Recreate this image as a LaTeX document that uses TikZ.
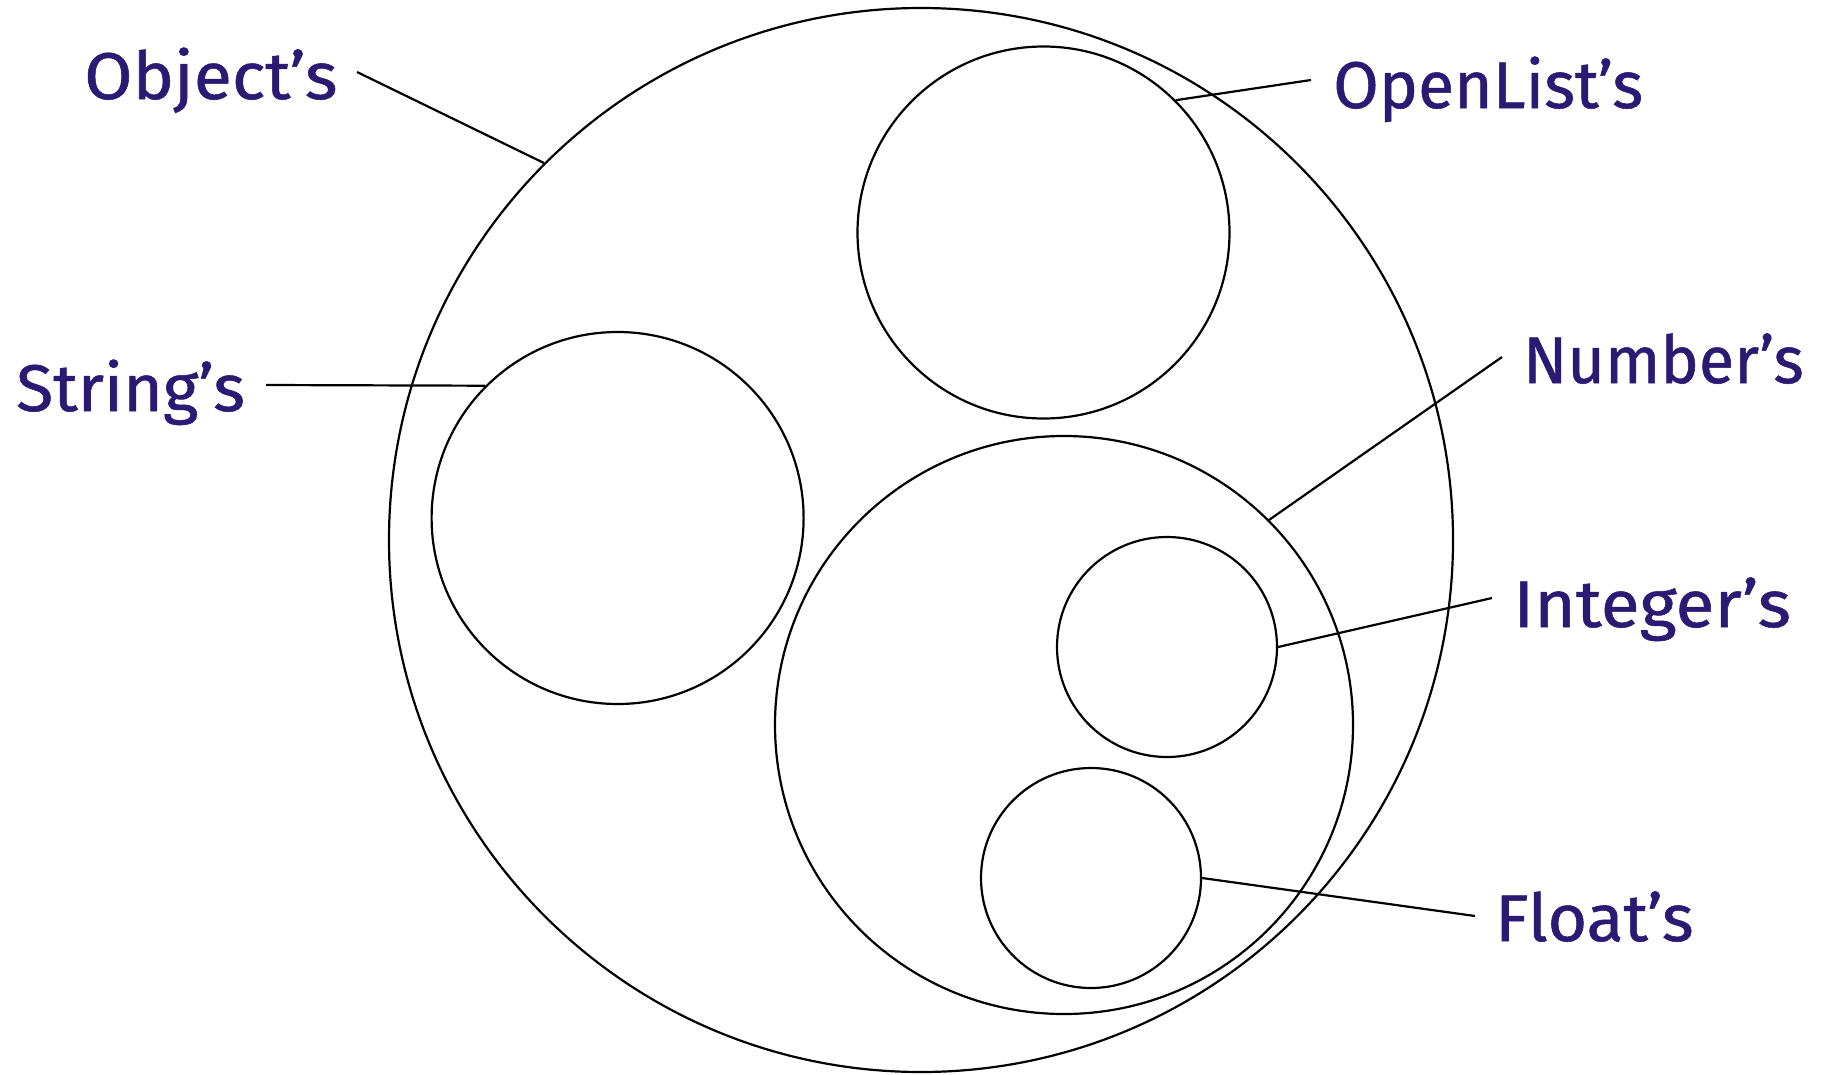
\documentclass[tikz,border=0pt]{standalone}
\usepackage{fontspec}
\setmainfont{Fira Sans}
\newfontfamily\lblfont[FakeBold=0.8]{Fira Sans}
\definecolor{labelblue}{HTML}{2B1A73}
\begin{document}
\begin{tikzpicture}[x=1pt,y=-1pt,
  setcircle/.style={draw,circle,inner sep=0pt,line width=2.2pt},
  lbl/.style={anchor=base west,inner sep=0pt,text=labelblue,font=\lblfont\fontsize{66}{70}\selectfont},
  conn/.style={line width=2.2pt}]
\useasboundingbox (0,0) rectangle (1822,1074);
\node[setcircle,minimum size=1064pt] (obj) at (921,540) {};
\node[setcircle,minimum size=372pt] (open) at (1043.5,232.5) {};
\node[setcircle,minimum size=372pt] (str) at (617.6,518) {};
\node[setcircle,minimum size=578pt] (num) at (1064,725) {};
\node[setcircle,minimum size=220pt] (int) at (1167,647) {};
\node[setcircle,minimum size=220pt] (flt) at (1091,878) {};
\node[lbl] (lobj) at (84,99) {\scalebox{1.06}[1]{Object’s}};
\node[lbl] (lopen) at (1333,108) {OpenList’s};
\node[lbl] (lstr) at (16,411) {\scalebox{1.03}[1]{String’s}};
\node[lbl] (lnum) at (1523,383) {\scalebox{0.98}[1]{Number’s}};
\node[lbl] (lint) at (1513,627) {\scalebox{1.08}[1]{Integer’s}};
\node[lbl] (lflt) at (1495,941) {\scalebox{1.03}[1]{Float’s}};
\coordinate (cobj) at (357,72);
\coordinate (copen) at (1311,80);
\coordinate (cstr) at (266,385);
\coordinate (cnum) at (1502,357);
\coordinate (cint) at (1492,598);
\coordinate (cflt) at (1475,916);
\draw[conn] (cobj) -- (obj.135);
\draw[conn] (copen) -- (open.45);
\draw[conn] (cstr) -- (str.135);
\draw[conn] (cnum) -- (num.45);
\draw[conn] (cint) -- (int.0);
\draw[conn] (cflt) -- (flt.0);
\end{tikzpicture}
\end{document}
